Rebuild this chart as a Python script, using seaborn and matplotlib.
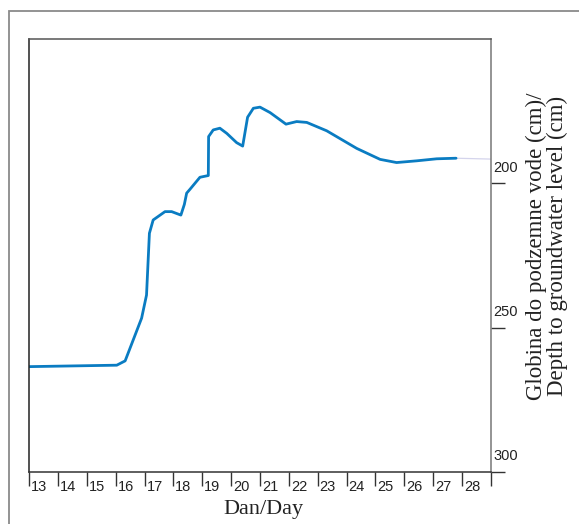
import pandas as pd
import seaborn as sns
import matplotlib.pyplot as plt
import matplotlib.transforms as mtransforms
from matplotlib.patches import Rectangle

# --- data ---
day = [13.0, 16.04, 16.33, 16.9, 17.07, 17.17, 17.3, 17.71, 17.94, 18.26,
       18.38, 18.46, 18.58, 18.92, 19.21, 19.22, 19.38, 19.61, 19.85, 20.19,
       20.4, 20.57, 20.77, 21.0, 21.35, 21.9, 22.27, 22.62, 23.31, 24.35,
       25.16, 25.73, 26.43, 27.12, 27.79]
depth = [263.5, 263.0, 261.5, 246.7, 238.7, 217.3, 212.7, 209.8, 209.8, 211.0,
         207.3, 203.4, 202.0, 197.9, 197.3, 183.8, 181.5, 180.9, 182.7, 185.9,
         187.1, 177.1, 174.0, 173.6, 175.5, 179.5, 178.6, 178.9, 181.8, 187.9,
         191.7, 192.8, 192.2, 191.5, 191.3]
# faint continuation to the right edge
tail_day = [27.79, 29.0]
tail_depth = [191.3, 191.6]

x_ticks = list(range(13, 30))
x_labels = [str(d) for d in range(13, 29)] + ['']
y_ticks = [200, 250, 300]

sns.set_theme(style="ticks")
plt.rcParams['font.family'] = ['Liberation Sans', 'DejaVu Sans']

fig = plt.figure(figsize=(5.79, 5.24), dpi=100)
ax = fig.add_axes([29 / 579, 1 - 472 / 524, 462 / 579, 433 / 524])

df = pd.DataFrame({'day': day, 'depth': depth})
df_tail = pd.DataFrame({'day': tail_day, 'depth': tail_depth})
sns.lineplot(data=df_tail, x='day', y='depth', ax=ax, color='#d4d4ec', linewidth=0.9)
sns.lineplot(data=df, x='day', y='depth', ax=ax, color='#0a7cc2', linewidth=2.0)

ax.set_xlim(13, 29)
ax.set_ylim(300, 150)
ax.set_xticks(x_ticks)
ax.set_xticklabels(x_labels, fontsize=10.5, ha='left')
ax.yaxis.tick_right()
ax.set_yticks(y_ticks)
ax.set_yticklabels([str(v) for v in y_ticks], fontsize=10.5)
ax.tick_params(axis='both', direction='out', length=10, width=1, color='#333333', labelcolor='#222222')

# nudge tick labels next to / above their ticks
dpi = fig.dpi
off_x = mtransforms.ScaledTranslation(2 / dpi, 11 / dpi, fig.dpi_scale_trans)
for lab in ax.get_xticklabels():
    lab.set_transform(lab.get_transform() + off_x)
off_y = mtransforms.ScaledTranslation(-16 / dpi, 17 / dpi, fig.dpi_scale_trans)
for lab in ax.get_yticklabels():
    lab.set_ha('left')
    lab.set_transform(lab.get_transform() + off_y)

for side, col in [('left', '#222222'), ('top', '#555555'), ('right', '#777777'), ('bottom', '#333333')]:
    ax.spines[side].set_visible(True)
    ax.spines[side].set_color(col)
    ax.spines[side].set_linewidth(1.1)

ax.set_xlabel('Dan/Day', family=['Liberation Serif'], fontsize=16, color='#222222')
ax.xaxis.set_label_coords(0.508, -0.065)
ax.set_ylabel('')
ax.text(1.121, 0.522, 'Globina do podzemne vode (cm)/\nDepth to groundwater level (cm)',
        transform=ax.transAxes, rotation=90, ha='center', va='center',
        family=['Liberation Serif'], fontsize=16.5, linespacing=0.95, color='#222222')

# outer frame around the figure
fig.patches.append(Rectangle((9 / 579, -0.1), 1.1, 1 - 11 / 524 + 0.1, transform=fig.transFigure,
                             fill=False, edgecolor='#8a8a8a', linewidth=1.3))

plt.savefig('out.png', dpi=100)
